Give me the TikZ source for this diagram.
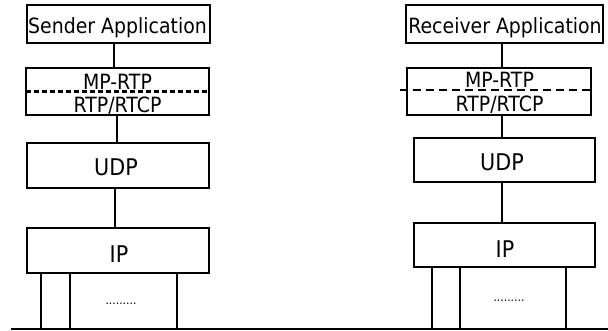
\documentclass[tikz,border=0pt]{standalone}
\usepackage{fontspec}
\setmainfont{DejaVu Sans}[FakeStretch=0.9]
\usetikzlibrary{calc}
\begin{document}
\begin{tikzpicture}[x=1pt,y=-1pt,
  box/.style={draw, line width=1.2pt, inner sep=0pt, outer sep=0pt},
  lbl/.style={font=\fontsize{21}{21}\selectfont, inner sep=0pt, anchor=base},
  big/.style={font=\fontsize{23}{23}\selectfont, inner sep=0pt, anchor=base},
  dotlbl/.style={font=\fontsize{12}{12}\selectfont, inner sep=0pt, anchor=base},
  link/.style={draw, line width=1.1pt},
  sep/.style={draw, line width=2.2pt, dash pattern=on 5pt off 3pt},
  sepr/.style={draw, line width=2pt, dash pattern=on 8pt off 5pt},
  bus/.style={draw, line width=2pt}]
\useasboundingbox (0,0) rectangle (608,330);

% ---- sender stack
\node[box, minimum width=183pt, minimum height=38pt] (sapp) at (118.5,24) {};
\node[lbl] (sappT) at (117.5,33.3) {Sender Application};
\node[box, minimum width=183pt, minimum height=47pt] (smp) at (117.5,91.5) {};
\node[lbl] (smpT) at (117.5,89) {MP-RTP};
\node[lbl] (srtpT) at (117.5,112) {RTP/RTCP};
\node[box, minimum width=182pt, minimum height=45pt] (sudp) at (118,165.5) {};
\node[big] (sudpT) at (116,175) {UDP};
\node[box, minimum width=182pt, minimum height=45pt] (sip) at (118,250.5) {};
\node[big] (sipT) at (119,262.5) {IP};
\node[dotlbl] (sdots) at (121,304.5) {.........};

% ---- receiver stack
\node[box, minimum width=197pt, minimum height=38pt] (rapp) at (504.5,24) {};
\node[lbl] (rappT) at (505,33) {Receiver Application};
\node[box, minimum width=184pt, minimum height=47pt] (rmp) at (499,91.5) {};
\node[lbl] (rmpT) at (499.5,87) {MP-RTP};
\node[lbl] (rrtpT) at (499.5,111) {RTP/RTCP};
\node[box, minimum width=181pt, minimum height=44pt] (rudp) at (504.5,160) {};
\node[big] (rudpT) at (502,170) {UDP};
\node[box, minimum width=181pt, minimum height=44pt] (rip) at (504.5,245) {};
\node[big] (ripT) at (505,257.5) {IP};
\node[dotlbl] (rdots) at (509,301.5) {.........};

% ---- dashed separators
\draw[sep] (smp.west) -- (smp.east);
\draw[sepr] ($(rmp.west)+(-7,-1.5)$) -- ($(rmp.east)+(1,-1.5)$);

% ---- connectors
\coordinate (lx1) at (114,0);
\coordinate (lx2) at (117,0);
\coordinate (lx3) at (115,0);
\coordinate (rx) at (502,0);
\draw[link] (sapp.south -| lx1) -- (smp.north -| lx1);
\draw[link] (smp.south -| lx2) -- (sudp.north -| lx2);
\draw[link] (sudp.south -| lx3) -- (sip.north -| lx3);
\draw[link] (rapp.south -| rx) -- (rmp.north -| rx);
\draw[link] (rmp.south -| rx) -- (rudp.north -| rx);
\draw[link] (rudp.south -| rx) -- (rip.north -| rx);

% ---- network bus and interface lines
\coordinate (bus0) at (11,328.5);
\coordinate (bus1) at (608,328.5);
\draw[bus] (bus0) -- (bus1);
\foreach \x/\n in {41/a,70/b,177/c}{
  \coordinate (sv\n) at (\x,0);
  \draw[link] (sip.south -| sv\n) -- (bus0 -| sv\n);
}
\foreach \x/\n in {432/a,460/b,566/c}{
  \coordinate (rv\n) at (\x,0);
  \draw[link] (rip.south -| rv\n) -- (bus0 -| rv\n);
}
\end{tikzpicture}
\end{document}
